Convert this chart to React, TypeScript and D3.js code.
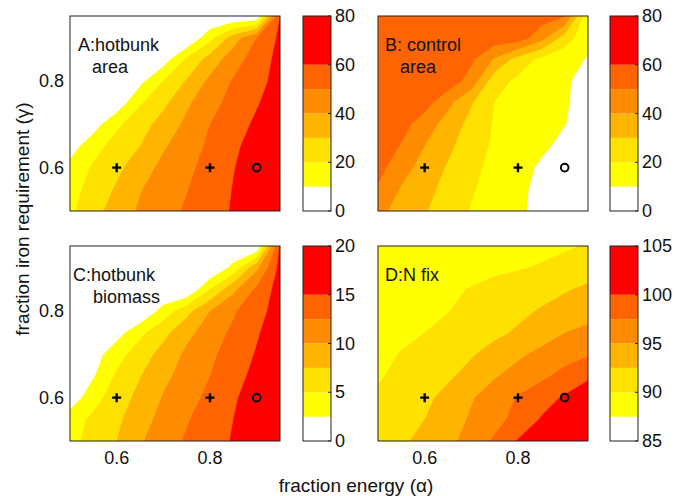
import { useMemo } from "react";
import * as d3 from "d3";

// grid of the model runs: fraction energy (alpha) x fraction iron requirement (gamma)
const energy = [0.5, 0.55, 0.6, 0.65, 0.7, 0.75, 0.8, 0.85, 0.9, 0.95];
const ironReq = [0.5, 0.55, 0.6, 0.65, 0.7, 0.75, 0.8, 0.85, 0.9, 0.95];

// rows go from ironReq 0.5 (first) to 0.95 (last), columns follow energy
const hotbunkArea = [
  [18, 26.5, 34.4, 41.4, 46.4, 51.3, 56, 60.9, 67, 73],
  [16.3, 23.7, 31.2, 39.4, 44.6, 49.6, 55, 60.4, 66, 72],
  [13, 21.4, 27.7, 35.6, 42.6, 47.8, 53.6, 59.6, 65, 70],
  [5.4, 16.2, 23.9, 30, 38.8, 45.5, 51.8, 58.2, 64, 69],
  [0, 5.5, 18.2, 26, 33.8, 42.2, 50, 55.8, 61.7, 67],
  [0, 0, 3.3, 18.9, 27.6, 38.3, 46.7, 53.3, 59.2, 65],
  [0, 0, 0, 7.3, 20, 30.9, 42.5, 50.9, 57.3, 63],
  [0, 0, 0, 0, 5, 21.7, 34, 45.7, 54.7, 63],
  [0, 0, 0, 0, 0, 0, 16.7, 35, 50, 62],
  [0, 0, 0, 0, 0, 0, 0, 0, 0, 60],
];

const controlArea = [
  [42.5, 36.7, 30.8, 25, 19.4, 15.5, 11.5, 7.6, 5, 3],
  [49, 39.1, 33, 27, 20.9, 16.3, 12, 7.6, 5, 3],
  [53.3, 44, 36, 29, 22.4, 17.3, 13, 8.8, 5, 3],
  [57, 49.3, 40, 32.2, 24.4, 18.5, 15, 11.5, 8, 5],
  [57, 53.8, 45, 36, 26.7, 19.1, 16.2, 13.2, 10.2, 7.4],
  [58, 56, 54.2, 42.5, 30.8, 19.8, 16.7, 13.7, 10.7, 7.4],
  [58, 57, 56, 56, 46, 24, 18, 14.5, 11, 7.5],
  [58, 58, 57, 56, 51.8, 39, 26, 17.6, 13.5, 9.4],
  [58, 58, 58, 57, 57, 56, 56, 44, 25.7, 12],
  [57, 57, 57, 57, 57, 57, 56, 55, 51, 12],
];

const hotbunkBiomass = [
  [4.3, 5.9, 7.5, 9.7, 11.4, 12.8, 14, 15.2, 16.3, 17.5],
  [3.9, 5.5, 7.0, 9.0, 10.8, 12.3, 13.7, 15, 16.2, 17.3],
  [0.9, 4.1, 6.3, 8.2, 10.2, 11.6, 13.1, 14.7, 16.2, 17.5],
  [0, 2.3, 5.4, 7.4, 9.4, 11.0, 12.5, 14.1, 15.7, 17],
  [0, 1.35, 4.0, 6.3, 8.4, 10.5, 12.0, 13.6, 15.2, 16.8],
  [0, 0, 1.5, 4.4, 6.8, 9.3, 11.25, 13, 14.75, 16.5],
  [0, 0, 0, 0, 3.5, 6.7, 10, 12.2, 14.2, 16],
  [0, 0, 0, 0, 0, 0, 5, 9.4, 13, 16.1],
  [0, 0, 0, 0, 0, 0, 0, 3.3, 9.5, 15.8],
  [0, 0, 0, 0, 0, 0, 0, 0, 0, 15.5],
];

const nFix = [
  [91.2, 92.1, 93.2, 94.4, 95.9, 97.9, 100.2, 101.6, 103.1, 104.5],
  [90.8, 91.65, 92.5, 93.9, 95.3, 96.7, 98.3, 100.2, 101.6, 103],
  [90.3, 91.2, 92.0, 93.2, 94.8, 96.25, 97.7, 99, 100.3, 101.5],
  [89.8, 90.5, 91.3, 92.15, 93.3, 94.8, 95.9, 97.0, 98.3, 99.6],
  [89.5, 90.1, 90.8, 91.6, 92.3, 93.4, 94.6, 95.6, 96.5, 97.3],
  [89.2, 89.6, 90.0, 90.6, 91.3, 92.0, 92.8, 93.9, 95, 95.6],
  [89.0, 89.3, 89.6, 89.95, 90.6, 91.3, 92.0, 92.7, 93.4, 94.1],
  [88.8, 89.1, 89.4, 89.7, 90.1, 90.6, 91.2, 91.7, 92.3, 92.9],
  [88.6, 88.8, 89.0, 89.2, 89.4, 89.6, 89.85, 90.2, 90.8, 91.5],
  [88.5, 88.6, 88.7, 88.8, 88.9, 89.0, 89.2, 89.4, 89.7, 90.2],
];

// contour levels and colorbar ticks
const areaLevels = [10, 20, 30, 40, 50, 60];
const areaTicks = [0, 20, 40, 60, 80];
const biomassLevels = [2.5, 5, 7.5, 10, 12.5, 15];
const biomassTicks = [0, 5, 10, 15, 20];
const nfixLevels = [87.5, 90, 92.5, 95, 97.5, 100];
const nfixTicks = [85, 90, 95, 100, 105];

const axisTicks = [0.6, 0.8];

// reference runs
const plusPoints = [
  [0.6, 0.6],
  [0.8, 0.6],
];
const circlePoints = [[0.9, 0.6]];

const bandColors = ["#ffffff", "#ffff00", "#ffe100", "#ffb400", "#ff8c00", "#ff6400", "#ff0000"];

const FONT = "'Liberation Sans', Arial, Helvetica, sans-serif";
const PW = 210;
const PH = 195;
const CBW = 28;

const panels = [
  { id: "A", values: hotbunkArea, levels: areaLevels, ticks: areaTicks, cb: [0, 80], x0: 70, y0: 16, cbX: 303, label: ["A:hotbunk", "area"], lx: [78, 92], yTicks: true, xTicks: false },
  { id: "B", values: controlArea, levels: areaLevels, ticks: areaTicks, cb: [0, 80], x0: 378, y0: 16, cbX: 610, label: ["B: control", "area"], lx: [385, 400], yTicks: false, xTicks: false },
  { id: "C", values: hotbunkBiomass, levels: biomassLevels, ticks: biomassTicks, cb: [0, 20], x0: 70, y0: 246, cbX: 303, label: ["C:hotbunk", "biomass"], lx: [73, 93], yTicks: true, xTicks: true },
  { id: "D", values: nFix, levels: nfixLevels, ticks: nfixTicks, cb: [85, 105], x0: 378, y0: 246, cbX: 610, label: ["D:N fix"], lx: [385], yTicks: false, xTicks: true },
];

function Panel({ p }) {
  const x = d3.scaleLinear().domain([energy[0], energy[energy.length - 1]]).range([p.x0, p.x0 + PW]);
  const y = d3.scaleLinear().domain([ironReq[0], ironReq[ironReq.length - 1]]).range([p.y0 + PH, p.y0]);

  const paths = useMemo(() => {
    const nx = energy.length;
    const ny = ironReq.length;
    // contour grid coords: sample i sits at i + 0.5
    const gx = d3.scaleLinear().domain([0.5, nx - 0.5]).range([energy[0], energy[nx - 1]]);
    const gy = d3.scaleLinear().domain([0.5, ny - 0.5]).range([ironReq[0], ironReq[ny - 1]]);
    const proj = d3.geoTransform({
      point(px, py) {
        this.stream.point(x(gx(px)), y(gy(py)));
      },
    });
    const path = d3.geoPath(proj);
    const flat = p.values.flat();
    const contours = d3.contours().size([nx, ny]).thresholds(p.levels)(flat);
    return contours.map((c) => path(c));
  }, [p]);

  const cbScale = d3.scaleLinear().domain(p.cb).range([p.y0 + PH, p.y0]);
  const edges = [p.cb[0], ...p.levels, p.cb[1]];
  const clipId = `clip-${p.id}`;

  return (
    <g>
      <defs>
        <clipPath id={clipId}>
          <rect x={p.x0} y={p.y0} width={PW} height={PH} />
        </clipPath>
      </defs>
      <rect x={p.x0} y={p.y0} width={PW} height={PH} fill={bandColors[0]} />
      <g clipPath={`url(#${clipId})`}>
        {paths.map((d, i) => (
          <path key={i} d={d} fill={bandColors[i + 1]} />
        ))}
      </g>
      {plusPoints.map(([a, b], i) => (
        <path
          key={"p" + i}
          d={`M${x(a) - 4.5},${y(b)}H${x(a) + 4.5}M${x(a)},${y(b) - 4.5}V${y(b) + 4.5}`}
          stroke="#000"
          strokeWidth={2.4}
        />
      ))}
      {circlePoints.map(([a, b], i) => (
        <circle key={"c" + i} cx={x(a)} cy={y(b)} r={3.8} fill="none" stroke="#000" strokeWidth={2} />
      ))}
      <rect x={p.x0} y={p.y0} width={PW} height={PH} fill="none" stroke="#222" strokeWidth={1} />
      {p.label.map((t, i) => (
        <text key={t} x={p.lx[i]} y={p.y0 + 35 + i * 22} fontSize={18} fontFamily={FONT} fill="#111">
          {t}
        </text>
      ))}
      {p.yTicks &&
        axisTicks.map((t) => (
          <text key={"y" + t} x={p.x0 - 6} y={y(t)} fontSize={18} fontFamily={FONT} textAnchor="end" dominantBaseline="central" fill="#111">
            {t.toFixed(1)}
          </text>
        ))}
      {p.xTicks &&
        axisTicks.map((t) => (
          <text key={"x" + t} x={x(t)} y={p.y0 + PH + 17} fontSize={18} fontFamily={FONT} textAnchor="middle" dominantBaseline="central" fill="#111">
            {t.toFixed(1)}
          </text>
        ))}
      {/* colorbar */}
      {edges.slice(0, -1).map((e, i) => (
        <rect
          key={"cb" + i}
          x={p.cbX}
          y={cbScale(edges[i + 1])}
          width={CBW}
          height={cbScale(e) - cbScale(edges[i + 1])}
          fill={bandColors[i]}
        />
      ))}
      <rect x={p.cbX} y={p.y0} width={CBW} height={PH} fill="none" stroke="#222" strokeWidth={1} />
      {p.ticks.map((t) => (
        <g key={"t" + t}>
          <line x1={p.cbX + CBW - 3} x2={p.cbX + CBW} y1={cbScale(t)} y2={cbScale(t)} stroke="#222" />
          <text x={p.cbX + CBW + 4} y={cbScale(t)} fontSize={18} fontFamily={FONT} dominantBaseline="central" fill="#111">
            {t}
          </text>
        </g>
      ))}
    </g>
  );
}

export default function App() {
  return (
    <svg width={685} height={496} style={{ position: "absolute", left: 0, top: 0, background: "#fff" }}>
      {panels.map((p) => (
        <Panel key={p.id} p={p} />
      ))}
      <text x={356} y={485} fontSize={19} fontFamily={FONT} textAnchor="middle" dominantBaseline="central" fill="#111">
        fraction energy (α)
      </text>
      <text
        transform="translate(22,219) rotate(-90)"
        fontSize={19}
        fontFamily={FONT}
        textAnchor="middle"
        dominantBaseline="central"
        fill="#111"
      >
        fraction iron requirement (γ)
      </text>
    </svg>
  );
}
